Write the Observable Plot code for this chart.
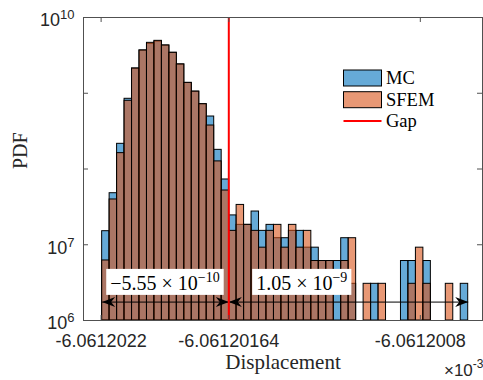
<!DOCTYPE html>
<html><head><meta charset="utf-8">
<script src="https://cdn.jsdelivr.net/npm/d3@7"></script>
<script src="https://cdn.jsdelivr.net/npm/@observablehq/plot@0.6"></script>
<style>body{margin:0;background:#fff}</style>
</head><body><div id="chart"></div>
<script>
// ---- data ----
const xTicks = [-6.0612022, -6.06120164, -6.0612008];
const xTickLabels = ["-6.0612022", "-6.06120164", "-6.0612008"];
const yTicks = [1e6, 1e7, 1e8, 1e9, 1e10];
const yTickLabels = ["10^6", "10^7", "", "", "10^10"];
const xDomain = [-6.0612022773, -6.0612005273];
const yDomain = [1e6, 1e10];
const gap = -6.06120164;
const binStart = -6.0612021955;
const binEnd = -6.06120059;
const binCount = 49;
const mcPdf = [1.51e7, 4.79e7, 2.15e8, 8.45e8, 2.12e9, 3.67e9, 4.50e9, 4.82e9, 4.27e9, 3.42e9,
  2.40e9, 1.37e9, 1.05e9, 7.17e8, 4.93e8, 1.79e8, 7.27e7, 2.44e7, 1.83e7, 1.83e7,
  2.745e7, 1.525e7, 1.83e7, 1.22e7, 1.22e7, 1.525e7, 1.525e7, 9.15e6, 9.15e6, 6.1e6,
  6.1e6, 6.1e6, 1.22e7, 3.05e6, 0, 0, 3.05e6, 0, 0, 0,
  6.1e6, 6.1e6, 0, 6.1e6, 0, 0, 0, 0, 3.05e6];
const sfemPdf = [6.2e6, 3.96e7, 1.62e8, 7.95e8, 2.12e9, 3.67e9, 4.63e9, 4.92e9, 4.27e9, 3.42e9,
  2.40e9, 1.37e9, 1.05e9, 7.17e8, 3.75e8, 1.26e8, 5.20e7, 1.525e7, 3.355e7, 1.83e7,
  1.525e7, 9.15e6, 1.525e7, 1.83e7, 9.15e6, 1.83e7, 9.15e6, 1.525e7, 6.1e6, 6.1e6,
  6.1e6, 0, 6.1e6, 1.22e7, 0, 3.05e6, 0, 3.05e6, 0, 0,
  0, 3.05e6, 9.15e6, 3.05e6, 0, 0, 3.05e6, 0, 0];
const legendNames = ["MC", "SFEM", "Gap"];
const arrowY = 1.75e6;
const annotY = 3.08e6;
const annotX = [-6.06120192, -6.06120132];
const annotLabels = ["\u22125.55 \u00d7 10^\u221210", "1.05 \u00d7 10^\u22129"];

// ---- build ----
const binWidth = (binEnd - binStart) / binCount;
function rows(vals) {
  return vals.map((v, i) => ({x1: binStart + i * binWidth, x2: binStart + (i + 1) * binWidth, v}))
             .filter(d => d.v > 0);
}
const spans = [{a: binStart, b: gap}, {a: gap, b: binEnd}];
const arrowRight = {draw(c) { c.moveTo(0, 0); c.lineTo(-13, -5); c.lineTo(-9, 0); c.lineTo(-13, 5); c.closePath(); }};
const arrowLeft = {draw(c) { c.moveTo(0, 0); c.lineTo(13, -5); c.lineTo(9, 0); c.lineTo(13, 5); c.closePath(); }};
const xFmt = new Map(xTicks.map((t, i) => [t, xTickLabels[i]]));
const yFmt = new Map(yTicks.map((t, i) => [t, yTickLabels[i]]));
const SANS = "'Liberation Sans', Arial, sans-serif";
const SERIF = "'Liberation Serif', 'Times New Roman', serif";
const AX = "#505050";
const FH = 380 - 17 - 60, FW = 483 - 83 - 1;

const chart = Plot.plot({
  width: 483, height: 380,
  marginLeft: 83, marginRight: 1, marginTop: 17, marginBottom: 60,
  style: {background: "white", fontFamily: SANS},
  x: {domain: xDomain, label: null},
  y: {type: "log", domain: yDomain, label: null},
  marks: [
    Plot.rect(rows(mcPdf), {x1: "x1", x2: "x2", y1: yDomain[0], y2: "v", fill: "#0072BD", fillOpacity: 0.6, stroke: "black", strokeWidth: 1}),
    Plot.rect(rows(sfemPdf), {x1: "x1", x2: "x2", y1: yDomain[0], y2: "v", fill: "#D95319", fillOpacity: 0.6, stroke: "black", strokeWidth: 1}),
    Plot.link(spans, {x1: "a", x2: "b", y1: arrowY, y2: arrowY, stroke: "black", strokeWidth: 1}),
    Plot.dot([gap, binEnd], {x: d => d, y: arrowY, symbol: arrowRight, fill: "black", stroke: "none"}),
    Plot.dot([binStart, gap], {x: d => d, y: arrowY, symbol: arrowLeft, fill: "black", stroke: "none"}),
    Plot.ruleX([gap], {stroke: "#FF0000", strokeWidth: 2}),
    Plot.text(annotLabels, {x: (d, i) => annotX[i], y: annotY, text: d => d, fontFamily: SERIF, fontSize: 20, fill: "black"}),
    Plot.frame({stroke: AX, strokeWidth: 1}),
    Plot.ruleX(xTicks, {insetTop: FH - 5, stroke: AX}),
    Plot.ruleX(xTicks, {insetBottom: FH - 5, stroke: AX}),
    Plot.ruleY(yTicks, {insetRight: FW - 5, stroke: AX}),
    Plot.ruleY(yTicks, {insetLeft: FW - 5, stroke: AX}),
    Plot.axisX({ticks: xTicks, tickFormat: d => xFmt.get(d), tickSize: 0, tickPadding: 14, fontSize: 18, fontFamily: SANS, color: "#262626", label: null}),
    Plot.axisY({ticks: yTicks, tickFormat: d => yFmt.get(d), tickSize: 0, tickPadding: 9, fontSize: 18, fontFamily: SANS, color: "#262626", label: null, dy: 3}),
    Plot.text(["PDF"], {text: d => d, frameAnchor: "left", rotate: -90, dx: -63, fontFamily: SERIF, fontSize: 20, fill: "#262626"}),
    Plot.text(["Displacement"], {text: d => d, frameAnchor: "bottom", lineAnchor: "middle", dy: 41.5, fontFamily: SERIF, fontSize: 21, fill: "#262626"}),
    Plot.text(["\u00d710^-3"], {text: d => d, frameAnchor: "bottom-right", lineAnchor: "middle", textAnchor: "end", dy: 50, dx: 1, fontFamily: SANS, fontSize: 17, fill: "#262626"})
  ]
});
document.getElementById("chart").appendChild(chart);

// ---- superscripts ----
const NS = "http://www.w3.org/2000/svg";
function supify(el, size, raise) {
  const s = el.textContent;
  const i = s.indexOf("^");
  if (i < 0) return;
  el.textContent = s.slice(0, i);
  const t = document.createElementNS(NS, "tspan");
  t.setAttribute("font-size", size);
  t.setAttribute("dy", -raise);
  t.textContent = s.slice(i + 1);
  el.appendChild(t);
}
chart.querySelectorAll("text").forEach(el => {
  const s = el.textContent;
  if (annotLabels.includes(s)) {
    supify(el, 14, 8);
    const b = el.getBBox();
    const r = document.createElementNS(NS, "rect");
    const padX = 4, padY = 1;
    r.setAttribute("x", b.x - padX);
    r.setAttribute("y", b.y - padY);
    r.setAttribute("width", b.width + 2 * padX);
    r.setAttribute("height", b.height + 2 * padY);
    r.setAttribute("fill", "white");
    if (el.getAttribute("transform")) r.setAttribute("transform", el.getAttribute("transform"));
    el.parentNode.insertBefore(r, el);
  } else if (s.startsWith("\u00d7")) {
    supify(el, 12, 8);
  } else if (s.startsWith("10^")) {
    supify(el, 13, 7);
  }
});

// ---- legend ----
const svg = d3.select(chart);
const lg = svg.append("g").attr("font-family", SERIF).attr("font-size", 18.5).attr("fill", "#000").attr("text-anchor", "start");
const patchFill = ["rgb(102,170,215)", "rgb(232,152,117)"];
const rowY = [78, 99.7, 121];
legendNames.forEach((name, i) => {
  if (i < 2) {
    lg.append("rect").attr("x", 343.5).attr("y", rowY[i] - 8).attr("width", 38).attr("height", 16)
      .attr("fill", patchFill[i]).attr("stroke", "black").attr("stroke-width", 1);
  } else {
    lg.append("line").attr("x1", 343.5).attr("x2", 381.5).attr("y1", rowY[i]).attr("y2", rowY[i])
      .attr("stroke", "#FF0000").attr("stroke-width", 2);
  }
  lg.append("text").attr("x", 386).attr("y", rowY[i]).attr("dy", "0.35em").attr("text-anchor", "start").text(name);
});
</script></body></html>
